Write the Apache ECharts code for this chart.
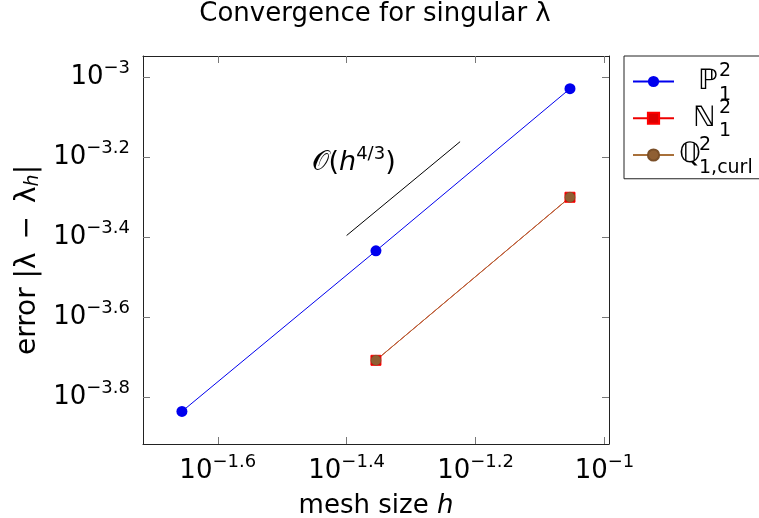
<!DOCTYPE html>
<html>
<head>
<meta charset="utf-8">
<script src="https://cdn.jsdelivr.net/npm/echarts@6/dist/echarts.min.js"></script>
<style>
  html, body { margin: 0; padding: 0; background: #fff; }
  #main { width: 759px; height: 518px; }
</style>
</head>
<body>
<div id="main"></div>
<script>
// mesh size h and error |lambda - lambda_h|
var meshP = [0.0221, 0.0442, 0.0884];
var errP = [1.46e-4, 3.68e-4, 9.36e-4];
var meshN = [0.0442, 0.0884];
var errN = [1.96e-4, 5.01e-4];
var meshQ = [0.0442, 0.0884];
var errQ = [1.96e-4, 5.01e-4];
// reference slope O(h^{4/3})
var refMesh = [0.0398, 0.0597];
var refErr = [4.02e-4, 6.90e-4];
// tick exponents (log10)
var xTicks = [-1.6, -1.4, -1.2, -1];
var yTicks = [-3.8, -3.6, -3.4, -3.2, -3];

var FONT = 'DejaVu Sans';

function toLog(xs, ys) {
    return xs.map(function (x, i) { return [Math.log10(x), Math.log10(ys[i])]; });
}
function powLabel(v) {
    var e = Math.round(v * 10) / 10;
    return '{b|10}{s|\u2212' + Math.abs(e) + '}';
}

var tickRich = {
    b: { fontSize: 26, fontFamily: FONT, color: '#000' },
    s: { fontSize: 18, fontFamily: FONT, color: '#000', padding: [0, 0, 18, 0] }
};

var legendText = {
    'P': '{gS| }{sp|2}\n{gP| }{m|\u2119}\n{gS| }{sb|1}',
    'N': '{gS| }{sp|2}\n{gN| }{m|\u2115}\n{gS| }{sb|1}',
    'Q': '{gQ| }{sp|2}\n{m|\u211A}\n{gQ| }{sb|1,curl}'
};

var chart = echarts.init(document.getElementById('main'));

var frame = { show: true, onZero: false, lineStyle: { color: '#222', width: 1 } };
var ticks = { show: true, inside: true, length: 7, lineStyle: { color: '#777' } };

var option = {
    animation: false,
    backgroundColor: '#fff',
    title: {
        text: 'Convergence for singular \u03BB',
        left: 375, top: 1, textAlign: 'center', padding: 0,
        textStyle: { fontFamily: FONT, fontSize: 26, fontWeight: 'normal', color: '#000' }
    },
    legend: {
        orient: 'vertical', left: 624, top: 56,
        padding: [4, 20, 1, 8], itemGap: -7.5,
        itemWidth: 41, itemHeight: 14,
        borderColor: '#222', borderWidth: 1, borderRadius: 0,
        data: ['P', 'N', 'Q'],
        formatter: function (name) { return legendText[name]; },
        textStyle: {
            rich: {
                gS: { width: 40, fontSize: 1, lineHeight: 1 },
                gP: { width: 19, fontSize: 1, lineHeight: 1 },
                gN: { width: 14, fontSize: 1, lineHeight: 1 },
                gQ: { width: 20, fontSize: 1, lineHeight: 1 },
                sp: { fontFamily: FONT, fontSize: 19, lineHeight: 12, color: '#000', padding: [2, 0, 0, 0] },
                m: { fontFamily: FONT, fontSize: 28, lineHeight: 10, color: '#000' },
                sb: { fontFamily: FONT, fontSize: 19, lineHeight: 12, color: '#000', padding: [4.5, 0, 0, 0] }
            }
        }
    },
    grid: { left: 143, right: 150, top: 56, bottom: 74, outerBoundsMode: 'none' },
    xAxis: [{
        type: 'value', position: 'bottom', min: -1.716, max: -0.993,
        axisLine: frame, axisTick: Object.assign({ customValues: xTicks }, ticks),
        splitLine: { show: false },
        axisLabel: { customValues: xTicks, formatter: powLabel, margin: 9, rich: tickRich },
        name: '{t|mesh size }{i|h}', nameLocation: 'middle', nameGap: 49,
        nameTextStyle: { rich: {
            t: { fontFamily: FONT, fontSize: 26, color: '#000' },
            i: { fontFamily: FONT, fontSize: 26, fontStyle: 'italic', color: '#000' }
        } }
    }, {
        type: 'value', position: 'top', min: -1.716, max: -0.993,
        axisLine: frame, axisTick: Object.assign({ customValues: xTicks }, ticks),
        splitLine: { show: false }, axisLabel: { show: false }
    }],
    yAxis: [{
        type: 'value', position: 'left', min: -3.917, max: -2.947,
        axisLine: frame, axisTick: Object.assign({ customValues: yTicks }, ticks),
        splitLine: { show: false },
        axisLabel: { customValues: yTicks, formatter: powLabel, margin: 13, rich: tickRich },
        name: '{t|error |\u03BB}{w| }{t|\u2212}{w| }{t|\u03BB}{i|h}{t||}{pad| }',
        nameLocation: 'middle', nameGap: 100,
        nameTextStyle: { rich: {
            t: { fontFamily: FONT, fontSize: 28, color: '#000' },
            w: { fontFamily: FONT, fontSize: 28, width: 13 },
            pad: { fontFamily: FONT, fontSize: 28, width: 20 },
            i: { fontFamily: FONT, fontSize: 19, fontStyle: 'italic', color: '#000', padding: [11, 0, 0, 0] }
        } }
    }, {
        type: 'value', position: 'right', min: -3.917, max: -2.947,
        axisLine: frame, axisTick: Object.assign({ customValues: yTicks }, ticks),
        splitLine: { show: false }, axisLabel: { show: false }
    }],
    series: [{
        name: 'P', type: 'line', data: toLog(meshP, errP),
        symbol: 'circle', symbolSize: 11,
        lineStyle: { color: '#0000ee', width: 1 },
        itemStyle: { color: '#0000ee' }
    }, {
        name: 'N', type: 'line', data: toLog(meshN, errN),
        symbol: 'rect', symbolSize: 10,
        lineStyle: { color: '#ee0000', width: 1 },
        itemStyle: { color: '#dd0000', borderColor: '#ff0000', borderWidth: 1 }
    }, {
        name: 'Q', type: 'line', data: toLog(meshQ, errQ),
        symbol: 'circle', symbolSize: 10,
        lineStyle: { color: '#a8703a', width: 1 },
        itemStyle: { color: '#8f5f33', borderColor: '#7a4f28', borderWidth: 0.6 }
    }, {
        name: 'ref', type: 'line',
        data: toLog(refMesh, refErr).map(function (p, i) {
            return i === 0 ? {
                value: p,
                label: {
                    show: true, position: 'inside', offset: [7, -73],
                    formatter: '{o|\uD835\uDCAA}{t|(}{h|h}{s|4/3}{t|)}',
                    rich: {
                        o: { fontFamily: FONT, fontSize: 27, color: '#000' },
                        t: { fontFamily: FONT, fontSize: 27, color: '#000' },
                        h: { fontFamily: FONT, fontSize: 27, fontStyle: 'italic', color: '#000' },
                        s: { fontFamily: FONT, fontSize: 18, color: '#000', padding: [0, 0, 17, 0] }
                    }
                }
            } : p;
        }),
        symbol: 'circle', symbolSize: 0, silent: true,
        lineStyle: { color: '#000', width: 1 },
        itemStyle: { color: '#000' }
    }]
};

chart.setOption(option);
</script>
</body>
</html>
